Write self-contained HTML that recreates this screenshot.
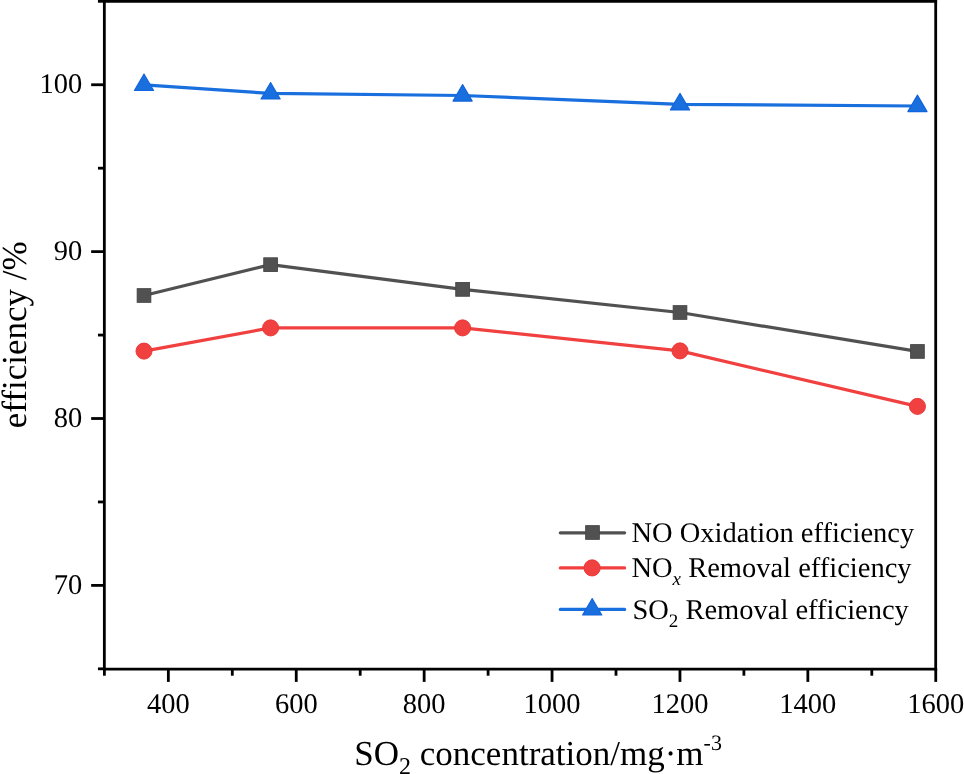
<!DOCTYPE html>
<html><head><meta charset="utf-8"><style>
html,body{margin:0;padding:0;background:#fff;width:964px;height:774px;overflow:hidden;}
svg{display:block;position:absolute;left:0;top:0;}
.ov{filter:grayscale(1);}
text{font-family:"Liberation Serif",serif;text-rendering:geometricPrecision;font-variant-ligatures:none;fill:#000;}
</style></head><body>
<svg width="964" height="774" viewBox="0 0 964 774">
<rect width="964" height="774" fill="#fff"/>
<g stroke="#000" stroke-width="2.8" stroke-linecap="square" fill="none">
<line x1="104.35" y1="1.35" x2="104.35" y2="669.1"/>
<line x1="935.7" y1="1.35" x2="935.7" y2="669.1"/>
<line x1="104.35" y1="669.1" x2="935.7" y2="669.1"/>
<line x1="104.35" y1="1.35" x2="935.7" y2="1.35"/>
</g>
<g stroke="#000" stroke-width="2.8" stroke-linecap="butt" fill="none">
<line x1="97.95" y1="668.83" x2="104.35" y2="668.83"/>
<line x1="91.15" y1="585.39" x2="104.35" y2="585.39"/>
<line x1="97.95" y1="501.95" x2="104.35" y2="501.95"/>
<line x1="91.15" y1="418.51" x2="104.35" y2="418.51"/>
<line x1="97.95" y1="335.07" x2="104.35" y2="335.07"/>
<line x1="91.15" y1="251.63" x2="104.35" y2="251.63"/>
<line x1="97.95" y1="168.19" x2="104.35" y2="168.19"/>
<line x1="91.15" y1="84.75" x2="104.35" y2="84.75"/>
<line x1="97.95" y1="1.31" x2="104.35" y2="1.31"/>
<line x1="104.40" y1="669.1" x2="104.40" y2="675.70"/>
<line x1="168.35" y1="669.1" x2="168.35" y2="681.90"/>
<line x1="232.30" y1="669.1" x2="232.30" y2="675.70"/>
<line x1="296.25" y1="669.1" x2="296.25" y2="681.90"/>
<line x1="360.20" y1="669.1" x2="360.20" y2="675.70"/>
<line x1="424.15" y1="669.1" x2="424.15" y2="681.90"/>
<line x1="488.10" y1="669.1" x2="488.10" y2="675.70"/>
<line x1="552.05" y1="669.1" x2="552.05" y2="681.90"/>
<line x1="616.00" y1="669.1" x2="616.00" y2="675.70"/>
<line x1="679.95" y1="669.1" x2="679.95" y2="681.90"/>
<line x1="743.90" y1="669.1" x2="743.90" y2="675.70"/>
<line x1="807.85" y1="669.1" x2="807.85" y2="681.90"/>
<line x1="871.80" y1="669.1" x2="871.80" y2="675.70"/>
<line x1="935.75" y1="669.1" x2="935.75" y2="681.90"/>
</g>
<g fill="none" stroke-width="3.2" stroke-linejoin="round" stroke-linecap="round">
<polyline stroke="#515151" points="144.00,295.50 270.60,264.65 462.60,289.40 680.00,312.50 917.45,351.45"/>
<polyline stroke="#F14040" points="144.00,351.10 270.60,327.90 462.60,327.90 680.00,350.90 917.45,406.40"/>
<polyline stroke="#1A6FDF" points="144.00,84.85 270.60,93.40 462.60,95.50 680.00,104.30 917.45,106.00"/>
</g>
<g fill="#515151" stroke="#454545" stroke-width="0.9"><rect x="137.15" y="288.65" width="13.7" height="13.7"/><rect x="263.75" y="257.80" width="13.7" height="13.7"/><rect x="455.75" y="282.55" width="13.7" height="13.7"/><rect x="673.15" y="305.65" width="13.7" height="13.7"/><rect x="910.60" y="344.60" width="13.7" height="13.7"/></g>
<g fill="#F14040" stroke="#E83434" stroke-width="0.9"><circle cx="144.00" cy="351.10" r="8.05"/><circle cx="270.60" cy="327.90" r="8.05"/><circle cx="462.60" cy="327.90" r="8.05"/><circle cx="680.00" cy="350.90" r="8.05"/><circle cx="917.45" cy="406.40" r="8.05"/></g>
<g fill="#1A6FDF" stroke="#1164DB" stroke-width="1.1" stroke-linejoin="round"><polygon points="144.00,73.95 134.40,90.45 153.60,90.45"/><polygon points="270.60,82.50 261.00,99.00 280.20,99.00"/><polygon points="462.60,84.60 453.00,101.10 472.20,101.10"/><polygon points="680.00,93.40 670.40,109.90 689.60,109.90"/><polygon points="917.45,95.10 907.85,111.60 927.05,111.60"/></g>
<!-- legend -->
<g stroke-width="3.2" stroke-linecap="round">
<line x1="560.3" y1="532.8" x2="624.6" y2="532.8" stroke="#515151"/>
<line x1="560.3" y1="567.9" x2="624.6" y2="567.9" stroke="#F14040"/>
<line x1="560.3" y1="609.4" x2="624.6" y2="609.4" stroke="#1A6FDF"/>
</g>
<rect x="585.65" y="525.65" width="13.7" height="13.7" fill="#515151" stroke="#454545" stroke-width="0.9"/>
<circle cx="592.1" cy="567.9" r="8.1" fill="#F14040" stroke="#E83434" stroke-width="0.9"/>
<polygon points="592.2,598.55 582.6,615.05 601.8,615.05" fill="#1A6FDF" stroke="#1164DB" stroke-width="1.1" stroke-linejoin="round"/>
</svg>
<svg class="ov" width="964" height="774" viewBox="0 0 964 774">
<g font-size="28.5">
<text x="82.3" y="593.89" text-anchor="end">70</text><text x="82.3" y="427.01" text-anchor="end">80</text><text x="82.3" y="260.13" text-anchor="end">90</text><text x="82.3" y="93.25" text-anchor="end">100</text>
<text x="168.35" y="712.7" text-anchor="middle">400</text><text x="296.25" y="712.7" text-anchor="middle">600</text><text x="424.15" y="712.7" text-anchor="middle">800</text><text x="552.05" y="712.7" text-anchor="middle">1000</text><text x="679.95" y="712.7" text-anchor="middle">1200</text><text x="807.85" y="712.7" text-anchor="middle">1400</text><text x="935.75" y="712.7" text-anchor="middle">1600</text>
</g>
<g font-size="28.5">
<text x="631.4" y="542.0">NO Oxidation efficiency</text>
<text x="631.4" y="577.0">NO<tspan font-style="italic" font-size="19" dy="8">x</tspan><tspan dy="-8"> Removal efficiency</tspan></text>
<text x="632.4" y="619.4">SO<tspan font-size="19" dy="7.7">2</tspan><tspan dy="-7.7"> Removal efficiency</tspan></text>
</g>
<g font-size="35">
<text x="354.3" y="765.4">SO<tspan font-size="24" dy="9">2</tspan><tspan dy="-9"> concentration/mg·m</tspan><tspan font-size="22" dy="-15">-3</tspan></text>
<text transform="translate(25.9,426.8) rotate(-90)" x="-1.4" y="0">efficiency /%</text>
</g>
</svg>
</body></html>
